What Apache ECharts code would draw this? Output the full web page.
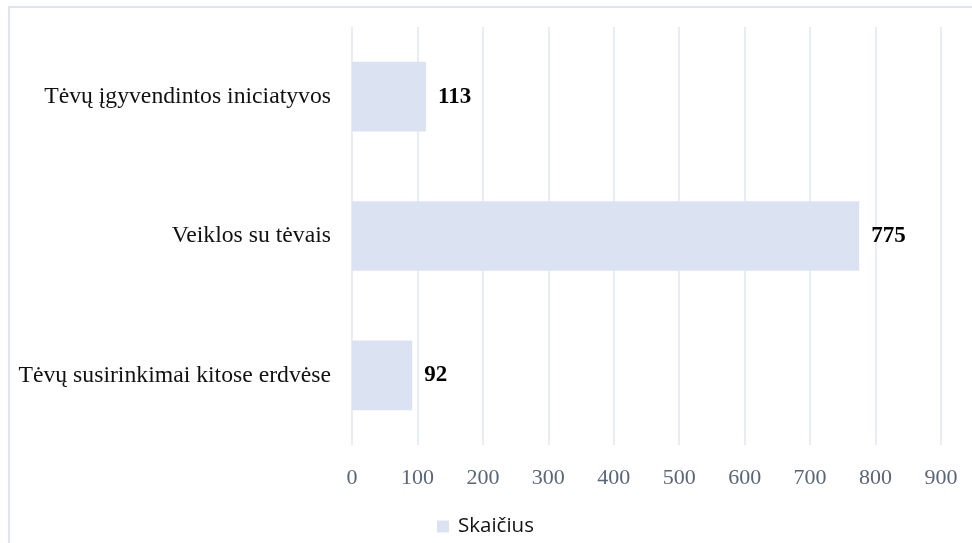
<!DOCTYPE html>
<html>
<head>
<meta charset="utf-8">
<script src="https://cdn.jsdelivr.net/npm/echarts@6/dist/echarts.min.js"></script>
<style>
  html, body { margin: 0; padding: 0; background: #fff; }
  #app { width: 972px; height: 543px; }
</style>
</head>
<body>
<div id="app"></div>
<script>
var categories = ['Tėvų susirinkimai kitose erdvėse', 'Veiklos su tėvais', 'Tėvų įgyvendintos iniciatyvos'];
var values = [92, 775, 113];
var seriesName = 'Skaičius';

var chart = echarts.init(document.getElementById('app'));

chart.setOption({
    animation: false,
    backgroundColor: '#fff',
    graphic: [{
        type: 'rect',
        shape: { x: 9, y: 7, width: 1000, height: 600 },
        style: { fill: 'none', stroke: '#dfe5ee', lineWidth: 2 },
        silent: true,
        z: -1
    }],
    grid: { left: 352, right: 31, top: 27, bottom: 98 },
    legend: {
        top: 511,
        left: 432,
        itemWidth: 12,
        itemHeight: 12,
        icon: 'rect',
        itemGap: 8,
        textStyle: { fontFamily: 'Open Sans', fontSize: 20.5, color: '#111', padding: [0, 0, 0, 4] },
        data: [seriesName]
    },
    xAxis: {
        type: 'value',
        min: 0,
        max: 900,
        interval: 100,
        axisLine: { show: false },
        axisTick: { show: false },
        splitLine: { lineStyle: { color: '#e2e6ee', width: 1.5 } },
        axisLabel: {
            margin: 22,
            fontFamily: 'Liberation Serif',
            fontSize: 22,
            color: '#5a6578'
        }
    },
    yAxis: {
        type: 'category',
        data: categories,
        axisLine: { show: false },
        axisTick: { show: false },
        axisLabel: {
            margin: 21,
            fontFamily: 'Liberation Serif',
            fontSize: 23.7,
            color: '#111'
        }
    },
    series: [{
        name: seriesName,
        type: 'bar',
        data: values,
        barWidth: '50%',
        itemStyle: { color: '#dbe2f1' },
        label: {
            show: true,
            position: 'right',
            distance: 12,
            fontFamily: 'Liberation Serif',
            fontWeight: 'bold',
            fontSize: 23,
            color: '#000'
        }
    }]
});
</script>
</body>
</html>
